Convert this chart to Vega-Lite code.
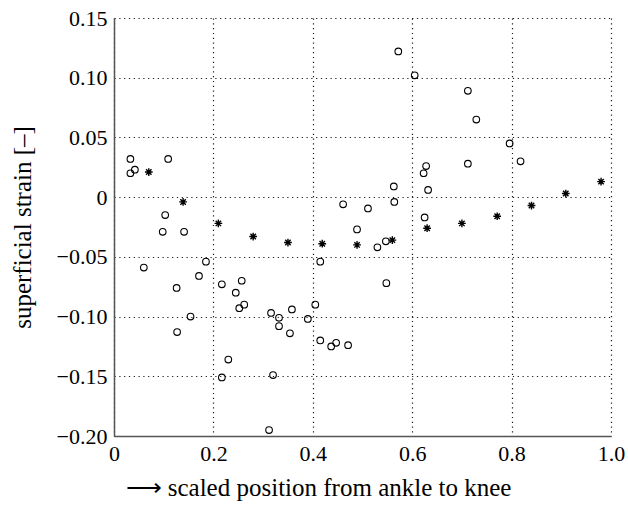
{
  "$schema": "https://vega.github.io/schema/vega-lite/v6.json",
  "autosize": "none",
  "width": 497,
  "height": 418,
  "padding": {"left": 114, "top": 18, "right": 17, "bottom": 80},
  "background": "white",
  "config": {
    "view": {"stroke": null},
    "font": "Liberation Serif"
  },
  "data": {
    "values": [
      {"pos": 0.033, "strain": 0.032, "kind": "measured"},
      {"pos": 0.033, "strain": 0.020, "kind": "measured"},
      {"pos": 0.042, "strain": 0.023, "kind": "measured"},
      {"pos": 0.109, "strain": 0.032, "kind": "measured"},
      {"pos": 0.103, "strain": -0.015, "kind": "measured"},
      {"pos": 0.098, "strain": -0.029, "kind": "measured"},
      {"pos": 0.141, "strain": -0.029, "kind": "measured"},
      {"pos": 0.572, "strain": 0.122, "kind": "measured"},
      {"pos": 0.605, "strain": 0.102, "kind": "measured"},
      {"pos": 0.712, "strain": 0.089, "kind": "measured"},
      {"pos": 0.729, "strain": 0.065, "kind": "measured"},
      {"pos": 0.796, "strain": 0.045, "kind": "measured"},
      {"pos": 0.818, "strain": 0.030, "kind": "measured"},
      {"pos": 0.712, "strain": 0.028, "kind": "measured"},
      {"pos": 0.628, "strain": 0.026, "kind": "measured"},
      {"pos": 0.623, "strain": 0.020, "kind": "measured"},
      {"pos": 0.632, "strain": 0.006, "kind": "measured"},
      {"pos": 0.563, "strain": 0.009, "kind": "measured"},
      {"pos": 0.564, "strain": -0.004, "kind": "measured"},
      {"pos": 0.461, "strain": -0.006, "kind": "measured"},
      {"pos": 0.511, "strain": -0.0095, "kind": "measured"},
      {"pos": 0.625, "strain": -0.017, "kind": "measured"},
      {"pos": 0.489, "strain": -0.027, "kind": "measured"},
      {"pos": 0.530, "strain": -0.042, "kind": "measured"},
      {"pos": 0.547, "strain": -0.037, "kind": "measured"},
      {"pos": 0.060, "strain": -0.059, "kind": "measured"},
      {"pos": 0.185, "strain": -0.054, "kind": "measured"},
      {"pos": 0.171, "strain": -0.066, "kind": "measured"},
      {"pos": 0.126, "strain": -0.076, "kind": "measured"},
      {"pos": 0.217, "strain": -0.073, "kind": "measured"},
      {"pos": 0.257, "strain": -0.070, "kind": "measured"},
      {"pos": 0.245, "strain": -0.080, "kind": "measured"},
      {"pos": 0.262, "strain": -0.090, "kind": "measured"},
      {"pos": 0.252, "strain": -0.093, "kind": "measured"},
      {"pos": 0.154, "strain": -0.100, "kind": "measured"},
      {"pos": 0.127, "strain": -0.113, "kind": "measured"},
      {"pos": 0.230, "strain": -0.136, "kind": "measured"},
      {"pos": 0.217, "strain": -0.151, "kind": "measured"},
      {"pos": 0.316, "strain": -0.097, "kind": "measured"},
      {"pos": 0.332, "strain": -0.101, "kind": "measured"},
      {"pos": 0.332, "strain": -0.108, "kind": "measured"},
      {"pos": 0.358, "strain": -0.094, "kind": "measured"},
      {"pos": 0.354, "strain": -0.114, "kind": "measured"},
      {"pos": 0.390, "strain": -0.102, "kind": "measured"},
      {"pos": 0.405, "strain": -0.090, "kind": "measured"},
      {"pos": 0.320, "strain": -0.149, "kind": "measured"},
      {"pos": 0.312, "strain": -0.195, "kind": "measured"},
      {"pos": 0.415, "strain": -0.054, "kind": "measured"},
      {"pos": 0.548, "strain": -0.072, "kind": "measured"},
      {"pos": 0.415, "strain": -0.120, "kind": "measured"},
      {"pos": 0.437, "strain": -0.125, "kind": "measured"},
      {"pos": 0.447, "strain": -0.122, "kind": "measured"},
      {"pos": 0.471, "strain": -0.124, "kind": "measured"},
      {"pos": 0.070, "strain": 0.021, "kind": "mean"},
      {"pos": 0.139, "strain": -0.004, "kind": "mean"},
      {"pos": 0.210, "strain": -0.022, "kind": "mean"},
      {"pos": 0.280, "strain": -0.033, "kind": "mean"},
      {"pos": 0.350, "strain": -0.038, "kind": "mean"},
      {"pos": 0.419, "strain": -0.039, "kind": "mean"},
      {"pos": 0.489, "strain": -0.040, "kind": "mean"},
      {"pos": 0.560, "strain": -0.036, "kind": "mean"},
      {"pos": 0.630, "strain": -0.026, "kind": "mean"},
      {"pos": 0.700, "strain": -0.022, "kind": "mean"},
      {"pos": 0.771, "strain": -0.016, "kind": "mean"},
      {"pos": 0.840, "strain": -0.007, "kind": "mean"},
      {"pos": 0.909, "strain": 0.003, "kind": "mean"},
      {"pos": 0.980, "strain": 0.013, "kind": "mean"}
    ]
  },
  "mark": {"type": "point", "filled": false, "color": "black", "opacity": 1},
  "encoding": {
    "x": {
      "field": "pos",
      "type": "quantitative",
      "scale": {"domain": [0, 1], "nice": false, "zero": false},
      "axis": {
        "values": [0, 0.2, 0.4, 0.6, 0.8, 1.0],
        "labelExpr": "datum.value == 0 ? '0' : format(datum.value, '.1f')",
        "labelFont": "Liberation Serif",
        "labelFontSize": 22,
        "labelColor": "black",
        "labelPadding": 7,
        "labelFlush": false,
        "ticks": false,
        "domainColor": "#555555",
        "domainWidth": 1.5,
        "grid": true,
        "gridColor": "black",
        "gridOpacity": 0.9,
        "gridWidth": 1.2,
        "gridDash": [1.2, 3.6],
        "title": "\u27f6 scaled position from ankle to knee",
        "titleFont": "Liberation Serif",
        "titleFontSize": 25,
        "titleFontWeight": "normal",
        "titleColor": "black",
        "titleAlign": "left",
        "titleBaseline": "middle",
        "titleX": 11,
        "titleY": 51
      }
    },
    "y": {
      "field": "strain",
      "type": "quantitative",
      "scale": {"domain": [-0.2, 0.15], "nice": false, "zero": false},
      "axis": {
        "values": [-0.2, -0.15, -0.1, -0.05, 0, 0.05, 0.1, 0.15],
        "labelExpr": "datum.value == 0 ? '0' : format(datum.value, '.2f')",
        "labelFont": "Liberation Serif",
        "labelFontSize": 22,
        "labelColor": "black",
        "labelPadding": 7,
        "labelFlush": false,
        "ticks": false,
        "domainColor": "#555555",
        "domainWidth": 1.5,
        "grid": true,
        "gridColor": "black",
        "gridOpacity": 0.9,
        "gridWidth": 1.2,
        "gridDash": [1.2, 3.6],
        "title": "superficial strain [\u2013]",
        "titleFont": "Liberation Serif",
        "titleFontSize": 25,
        "titleFontWeight": "normal",
        "titleColor": "black",
        "titleBaseline": "middle",
        "titleAngle": -90,
        "titleX": -92
      }
    },
    "shape": {
      "field": "kind",
      "type": "nominal",
      "scale": {"domain": ["measured", "mean"], "range": ["circle", "M-1,0H1M0,-1V1M-0.7,-0.7L0.7,0.7M-0.7,0.7L0.7,-0.7"]},
      "legend": null
    },
    "size": {
      "field": "kind",
      "type": "nominal",
      "scale": {"domain": ["measured", "mean"], "range": [44, 60]},
      "legend": null
    },
    "strokeWidth": {
      "field": "kind",
      "type": "nominal",
      "scale": {"domain": ["measured", "mean"], "range": [1.1, 1.4]},
      "legend": null
    }
  }
}
